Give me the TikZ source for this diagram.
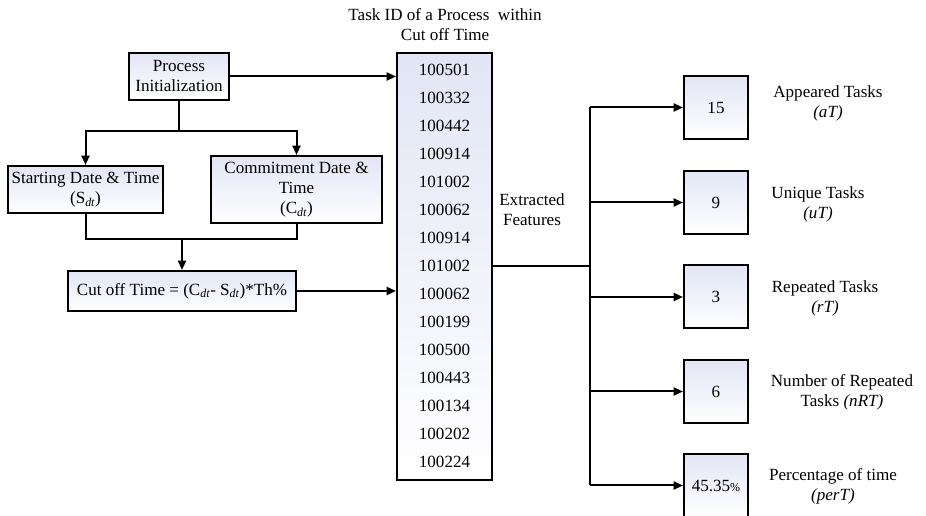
\documentclass[tikz,border=0pt]{standalone}
\usepackage{fontspec}
\setmainfont{Liberation Serif}
\usetikzlibrary{arrows.meta}
\definecolor{boxtop}{RGB}{226,229,245}
\tikzset{
  box/.style={draw, line width=1.5pt, top color=boxtop, bottom color=white, align=center, inner sep=1pt},
  res/.style={box, minimum width=48pt, minimum height=47.25pt},
  lab/.style={align=center},
  line/.style={line width=1.5pt},
  arr/.style={line width=1.5pt, -{Triangle[length=7pt,width=6pt]}}
}
\begin{document}
\fontsize{12.8}{15}\selectfont
\begin{tikzpicture}[x=0.75pt,y=-0.75pt]
\clip (0,0) rectangle (926,516);
\node[box, minimum width=75pt, minimum height=35.25pt] (proc) at (179,76.5) {Process\\Initialization};
\node[box, minimum width=116.25pt, minimum height=35.25pt] (start) at (85.5,189.5) {Starting Date \& Time\\(S\textsubscript{\itshape dt})};
\node[box, minimum width=128.25pt, minimum height=50.25pt] (commit) at (296.5,189.5) {Commitment Date \&\\Time\\(C\textsubscript{\itshape dt})};
\node[box, minimum width=171pt, minimum height=30pt] (cutoff) at (182,291) {Cut off Time = (C\textsubscript{\itshape dt}- S\textsubscript{\itshape dt})*Th\%};
\node[box, minimum width=71.25pt, minimum height=320.25pt] (list) at (444.5,266.5) {};
\node[lab] (title) at (445,25) {Task ID of a Process \ within\\Cut off Time};
\foreach \id [count=\i from 0] in {100501,100332,100442,100914,101002,100062,100914,101002,100062,100199,100500,100443,100134,100202,100224}
  \node (id\i) at (444.5,70+28*\i) {\id};
\node[lab] (feat) at (532,210) {Extracted\\Features};

\node[res] (aT) at (716,107.5) {15};
\node[res] (uT) at (716,202.5) {9};
\node[res] (rT) at (716,297) {3};
\node[res] (nRT) at (716,391.5) {6};
\node[res] (perT) at (716,485.5) {45.35{\small\%}};
\node[lab] (aTl) at (828,103) {Appeared Tasks\\\textit{(aT)}};
\node[lab] (uTl) at (818,204) {Unique Tasks\\\textit{(uT)}};
\node[lab] (rTl) at (825,298) {Repeated Tasks\\\textit{(rT)}};
\node[lab] (nRTl) at (842,392) {Number of Repeated\\Tasks \textit{(nRT)}};
\node[lab] (perTl) at (833,486) {Percentage of time\\\textit{(perT)}};

\coordinate (fork) at (179,131);
\coordinate (join) at (182,239);
\coordinate (trunk) at (590,266);

\draw[arr] (proc.east) -- (proc.east -| list.west);
\draw[line] (proc.south) -- (fork);
\draw[arr] (fork) -| (start.north);
\draw[arr] (fork) -| (commit.north);
\draw[line] (start.south) |- (join) -| (commit.south);
\draw[arr] (join) -- (cutoff.north);
\draw[arr] (cutoff.east) -- (cutoff.east -| list.west);
\draw[line] (list.east |- trunk) -- (trunk);
\draw[line] (trunk |- aT.west) -- (trunk |- perT.west);
\foreach \b in {aT,uT,rT,nRT,perT}
  \draw[arr] (trunk |- \b.west) -- (\b.west);
\end{tikzpicture}
\end{document}
